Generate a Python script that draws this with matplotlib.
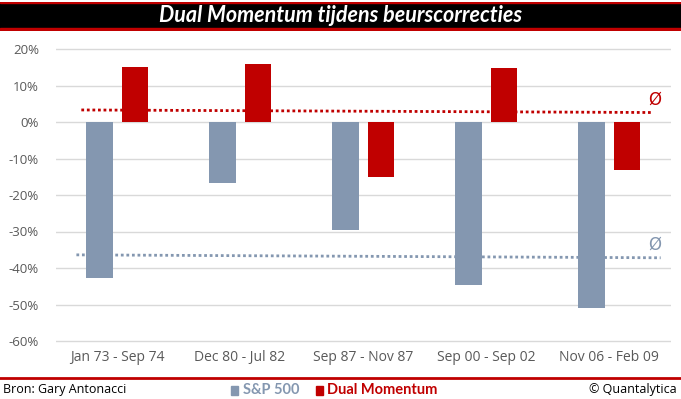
import matplotlib.pyplot as plt
import numpy as np

periods = ['Jan 73 - Sep 74', 'Dec 80 - Jul 82', 'Sep 87 - Nov 87', 'Sep 00 - Sep 02', 'Nov 06 - Feb 09']
sp500 = [-0.427, -0.167, -0.296, -0.447, -0.510]
dual_mom = [0.151, 0.159, -0.151, 0.148, -0.132]
sp_avg = [-0.364, -0.372]
dm_avg = [0.033, 0.026]

GRAY = '#8497B0'
RED = '#C00000'
TXT = '#595959'

W, H = 681, 399
fig = plt.figure(figsize=(W / 100, H / 100), dpi=100)


def px(x0, y0, x1, y1):
    return [x0 / W, 1 - y1 / H, (x1 - x0) / W, (y1 - y0) / H]


# title band
band = fig.add_axes(px(0, 2, W, 31))
band.set_xlim(0, 1)
band.set_ylim(0, 1)
band.axis('off')
band.axhspan(0.0, 1.0, color='black')
band.axhspan(0.0, 0.09, color=RED)
band.axhspan(0.96, 1.0, color=RED)
band.text(0.5, 0.53, 'Dual Momentum tijdens beurscorrecties', color='white',
          fontsize=15.5, fontweight='bold', style='italic', family='Lato',
          ha='center', va='center')

# main chart
ax = fig.add_axes(px(55.5, 45.35, 670.5, 344.65))
x = np.arange(len(periods))
ax.bar(x - 0.143, sp500, width=0.215, color=GRAY, zorder=3)
ax.bar(x + 0.146, dual_mom, width=0.215, color=RED, zorder=3)
ax.plot([-0.33, 4.42], sp_avg, ls=(0, (1, 1)), lw=2, color=GRAY, zorder=4)
ax.plot([-0.29, 4.35], dm_avg, ls=(0, (1, 1)), lw=2, color=RED, zorder=4)
ax.text(4.37, 0.062, 'Ø', color=RED, fontsize=12, ha='center', va='center', family='DejaVu Sans')
ax.text(4.37, -0.335, 'Ø', color=GRAY, fontsize=12, ha='center', va='center', family='DejaVu Sans')

ax.set_xlim(-0.5, 4.5)
ax.set_ylim(-0.61, 0.21)
ax.set_yticks(np.arange(-0.6, 0.21, 0.1))
ax.set_yticklabels([f'{int(round(v * 100))}%' for v in np.arange(-0.6, 0.21, 0.1)])
ax.set_xticks(x)
ax.set_xticklabels(periods)
ax.grid(axis='y', color='#D9D9D9', lw=1, zorder=0)
for s in ax.spines.values():
    s.set_visible(False)
ax.tick_params(length=0, colors=TXT)
ax.tick_params(axis='x', labelsize=10, pad=4)
ax.tick_params(axis='y', labelsize=9.5, pad=12)
for lab in ax.get_xticklabels() + ax.get_yticklabels():
    lab.set_family('Open Sans')

# footer
foot = fig.add_axes(px(0, 374, W, H))
foot.set_xlim(0, W)
foot.set_ylim(H, 374)
foot.axis('off')
foot.plot([0, W], [378, 378], color=RED, lw=2)
foot.text(3, 390, 'Bron: Gary Antonacci', fontsize=9, color='black', va='center', family='Open Sans')
foot.text(677, 390, '© Quantalytica', fontsize=9, color='black', va='center', ha='right', family='Open Sans')
foot.add_patch(plt.Rectangle((231, 386), 7, 9, color=GRAY))
foot.text(243, 390, 'S&P 500', fontsize=10.5, fontweight='bold', color=GRAY, va='center', family='Lato')
foot.add_patch(plt.Rectangle((316, 386), 7, 9, color=RED))
foot.text(327, 390, 'Dual Momentum', fontsize=10.5, fontweight='bold', color=RED, va='center', family='Lato')

fig.savefig('out.png', dpi=100)
